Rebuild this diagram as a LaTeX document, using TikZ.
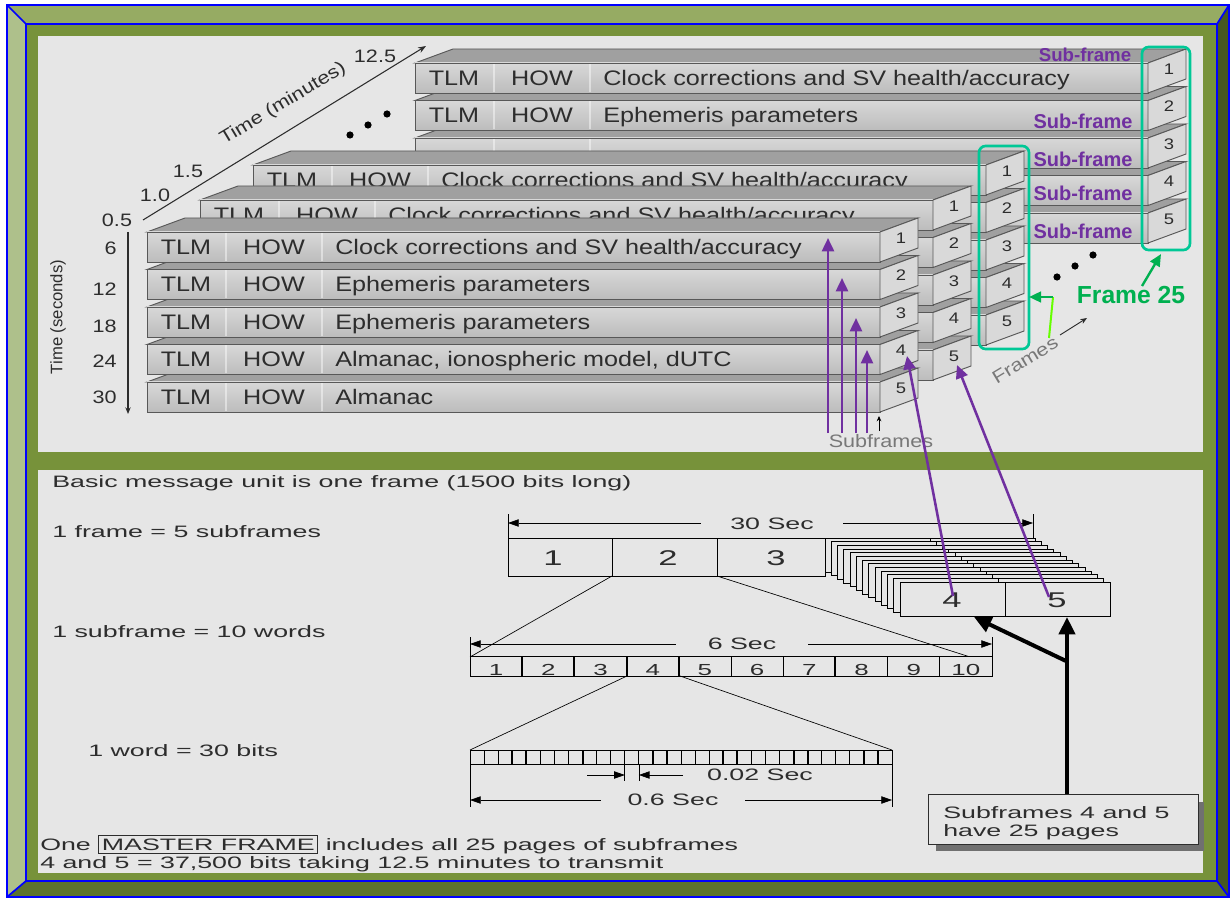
\documentclass[tikz,border=0pt]{standalone}
\usepackage{fontspec}
\setmainfont{Liberation Sans}
\newfontfamily\topf[FakeStretch=1.2]{Liberation Sans}
\newfontfamily\botf[FakeStretch=1.62]{Liberation Sans}
\usetikzlibrary{arrows.meta}
\definecolor{bandtop}{RGB}{150,171,99}
\definecolor{bandleft}{RGB}{174,192,139}
\definecolor{bandright}{RGB}{71,88,34}
\definecolor{bandbot}{RGB}{93,115,46}
\definecolor{olivefill}{RGB}{119,146,58}
\definecolor{panel}{RGB}{230,230,230}
\definecolor{purp}{RGB}{112,48,160}
\definecolor{fgreen}{RGB}{0,176,80}
\definecolor{brightg}{RGB}{102,255,0}
\definecolor{cyanbox}{RGB}{0,200,150}
\definecolor{topgray}{RGB}{160,160,160}
\definecolor{endgray}{RGB}{217,217,217}
\definecolor{barhi}{RGB}{216,216,216}
\definecolor{barlo}{RGB}{188,188,188}
\definecolor{edgegray}{RGB}{88,88,88}
\definecolor{txtdark}{RGB}{45,45,45}
\definecolor{lblgray}{RGB}{120,120,120}
\definecolor{shadowgray}{RGB}{112,112,112}

% one bar of a frame: x, y (top of front face), number, name
\newcommand\gpsbar[4]{%
  \filldraw[topface] (#1,#2) -- ({#1+38},{#2-14}) -- ({#1+771},{#2-14}) -- ({#1+733},{#2}) -- cycle;
  \shade[top color=barhi,bottom color=barlo] (#1,#2) rectangle ({#1+733},{#2+30});
  \draw[baredge] (#1,#2) rectangle ({#1+733},{#2+30});
  \draw[sepline] ({#1+79},{#2+1}) -- ({#1+79},{#2+29});
  \draw[sepline] ({#1+175},{#2+1}) -- ({#1+175},{#2+29});
  \filldraw[endface] ({#1+733},{#2}) -- ({#1+771},{#2-14}) -- ({#1+771},{#2+16}) -- ({#1+733},{#2+30}) -- cycle;
  \node[endnum] (#4) at ({#1+754},{#2+6}) {#3};
}
% texts of one bar: x, y, description, name
\newcommand\gpstext[4]{%
  \node[rowtxt] (#4a) at ({#1+39},{#2+22.5}) {TLM};
  \node[rowtxt] (#4b) at ({#1+127},{#2+22.5}) {HOW};
  \node[rowtxt,anchor=base west] (#4c) at ({#1+188},{#2+22.5}) {#3};
}

\begin{document}
\begin{tikzpicture}[x=0.75pt,y=-0.75pt,
  topface/.style={fill=topgray,draw=edgegray,line width=0.7pt},
  endface/.style={fill=endgray,draw=edgegray,line width=0.7pt},
  baredge/.style={draw=edgegray,line width=0.7pt},
  sepline/.style={draw=white,line width=2pt,opacity=0.45},
  rowtxt/.style={font=\topf\fontsize{15.75}{18}\selectfont,text=txtdark,inner sep=0pt,anchor=base},
  endnum/.style={font=\topf\fontsize{11.5}{13}\selectfont,text=txtdark,inner sep=0pt},
  axlbl/.style={font=\topf\fontsize{13.5}{16}\selectfont,text=txtdark,inner sep=0pt},
  subfr/.style={font=\bfseries\fontsize{15}{18}\selectfont,text=purp,inner sep=0pt},
  purparrow/.style={draw=purp,line width=1.9pt,-{Triangle[length=10pt,width=9pt]}},
  btxt/.style={font=\botf\fontsize{12.4}{15}\selectfont,text=txtdark,inner sep=0pt,anchor=base west},
  bnum/.style={font=\botf\fontsize{16}{18}\selectfont,text=txtdark,inner sep=0pt},
  snum/.style={font=\botf\fontsize{12}{14}\selectfont,text=txtdark,inner sep=0pt,anchor=base},
  cellbox/.style={draw=black,line width=0.6pt,fill=panel},
  dimline/.style={draw=black,line width=0.5pt},
  dimarrow/.style={draw=black,line width=0.5pt,{Triangle[length=8pt,width=5.5pt]}-{Triangle[length=8pt,width=5.5pt]}},
  thickarrow/.style={draw=black,line width=3pt,-{Triangle[length=13pt,width=12pt]}},
  framebox/.style={draw=cyanbox,line width=2pt,rounded corners=5pt},
  bordline/.style={draw=blue,line width=1.3pt}
]
\useasboundingbox (0,0) rectangle (1231,898);
% ---------------- border ----------------
\fill[white] (0,0) rectangle (1231,898);
\fill[bandtop] (7,5) -- (1229,5) -- (1217,24) -- (26,24) -- cycle;
\fill[bandleft] (7,5) -- (26,24) -- (26,881) -- (7,897) -- cycle;
\fill[bandright] (1229,5) -- (1229,897) -- (1217,881) -- (1217,24) -- cycle;
\fill[bandbot] (7,897) -- (26,881) -- (1217,881) -- (1229,897) -- cycle;
\fill[olivefill] (26,24) rectangle (1217,881);
\draw[bordline] (7,5) rectangle (1229,897);
\draw[bordline] (26,24) rectangle (1217,881);
\draw[bordline] (7,5) -- (26,24);
\draw[bordline] (1229,5) -- (1217,24);
\draw[bordline] (7,897) -- (26,881);
\draw[bordline] (1229,897) -- (1217,881);
% panels
\fill[panel] (38,36) rectangle (1203,452);
\fill[panel] (38,470) rectangle (1203,873);

% ---------------- top: axes ----------------
\coordinate (vtop) at (128,232);
\coordinate (vbot) at (128,414);
\draw[draw=txtdark,line width=0.8pt,-{Stealth[length=5pt,width=4pt]}] (vtop) -- (vbot);
\coordinate (dlow) at (143,220);
\coordinate (dhigh) at (426,46);
\draw[draw=txtdark,line width=0.8pt,-{Stealth[length=6pt,width=4.5pt]}] (dlow) -- (dhigh);
\node[axlbl] (a05) at (117,220) {0.5};
\node[axlbl] (a10) at (155,195) {1.0};
\node[axlbl] (a15) at (188,171) {1.5};
\node[axlbl] (a125) at (375,56) {12.5};
\node[axlbl,rotate=31] (tmin) at (283,104) {Time (minutes)};
\node[axlbl,anchor=east] (s6) at (117,248) {6};
\node[axlbl,anchor=east] (s12) at (117,289) {12};
\node[axlbl,anchor=east] (s18) at (117,326) {18};
\node[axlbl,anchor=east] (s24) at (117,361) {24};
\node[axlbl,anchor=east] (s30) at (117,397) {30};
\node[font=\fontsize{12.5}{14}\selectfont,text=txtdark,inner sep=0pt,rotate=90] (tsec) at (58,317) {Time (seconds)};
\fill[black] (350,135) circle (2.7pt);
\fill[black] (368,125) circle (2.7pt);
\fill[black] (387,114) circle (2.7pt);

% ---------------- top: frames ----------------
% frame 25
\foreach \r in {5,4,3,2,1}{%
  \pgfmathsetmacro{\yy}{63+(\r-1)*37.5}
  \gpsbar{415}{\yy}{\r}{fz\r}
}
\gpstext{415}{63}{Clock corrections and SV health/accuracy}{fzt1}
\gpstext{415}{100.5}{Ephemeris parameters}{fzt2}
% frame 3
\foreach \r in {5,4,3,2,1}{%
  \pgfmathsetmacro{\yy}{165+(\r-1)*37.5}
  \gpsbar{253}{\yy}{\r}{fc\r}
}
\gpstext{253}{165}{Clock corrections and SV health/accuracy}{fct1}
% frame 2
\foreach \r in {5,4,3,2,1}{%
  \pgfmathsetmacro{\yy}{200+(\r-1)*37.5}
  \gpsbar{200}{\yy}{\r}{fb\r}
}
\gpstext{200}{200}{Clock corrections and SV health/accuracy}{fbt1}
% frame 1
\foreach \r in {5,4,3,2,1}{%
  \pgfmathsetmacro{\yy}{232+(\r-1)*37.5}
  \gpsbar{147}{\yy}{\r}{fa\r}
}
\gpstext{147}{232}{Clock corrections and SV health/accuracy}{fat1}
\gpstext{147}{269.5}{Ephemeris parameters}{fat2}
\gpstext{147}{307}{Ephemeris parameters}{fat3}
\gpstext{147}{344.5}{Almanac, ionospheric model, dUTC}{fat4}
\gpstext{147}{382}{Almanac}{fat5}

% frame boxes and labels
\draw[framebox] (979,146) rectangle (1029,349);
\draw[framebox] (1142,47) rectangle (1190,250);
\node[subfr,font=\bfseries\fontsize{14}{16}\selectfont] (sf1) at (1085,55) {Sub-frame};
\node[subfr] (sf2) at (1083,121) {Sub-frame};
\node[subfr] (sf3) at (1083,159) {Sub-frame};
\node[subfr] (sf4) at (1083,193) {Sub-frame};
\node[subfr] (sf5) at (1083,231) {Sub-frame};
\fill[black] (1057,277) circle (2.7pt);
\fill[black] (1075,266) circle (2.7pt);
\fill[black] (1093,255) circle (2.7pt);
\node[axlbl,text=lblgray,rotate=31] (frm) at (1025,360) {Frames};
\coordinate (frs) at (1060,335);
\coordinate (fre) at (1087,318);
\draw[draw=txtdark,line width=0.7pt,-{Stealth[length=5pt,width=4pt]}] (frs) -- (fre);
\node[font=\bfseries\fontsize{18.5}{20}\selectfont,text=fgreen,inner sep=0pt] (f25) at (1131,295) {Frame 25};
\coordinate (f25s) at (1142,286);
\coordinate (f25t) at (1161,254);
\draw[draw=fgreen,line width=1.8pt,-{Triangle[length=9pt,width=8pt]}] (f25s) -- (f25t);
\coordinate (gla) at (1049,338);
\coordinate (glb) at (1053,297);
\coordinate (glc) at (1029,297);
\draw[draw=brightg,line width=1.5pt] (gla) -- (glb);
\draw[draw=fgreen,line width=1.8pt,-{Triangle[length=9pt,width=8pt]}] (glb) -- (glc);

% subframes label and arrows
\node[axlbl,text=lblgray] (sublbl) at (881,441) {Subframes};
\coordinate (sma) at (879,431);
\coordinate (smb) at (879,416);
\draw[draw=black,line width=0.7pt,-{Stealth[length=4pt,width=3.5pt]}] (sma) -- (smb);
\coordinate (pa1) at (828,433); \coordinate (pt1) at (828,238);
\coordinate (pa2) at (842,433); \coordinate (pt2) at (842,278);
\coordinate (pa3) at (856,433); \coordinate (pt3) at (856,318);
\coordinate (pa4) at (867,433); \coordinate (pt4) at (867,350);
\draw[purparrow] (pa1) -- (pt1);
\draw[purparrow] (pa2) -- (pt2);
\draw[purparrow] (pa3) -- (pt3);
\draw[purparrow] (pa4) -- (pt4);

% ---------------- bottom ----------------
\node[btxt] (basic) at (52,487) {Basic message unit is one frame (1500 bits long)};
\node[btxt] (l1) at (52,537) {1 frame = 5 subframes};
\node[btxt] (l2) at (52,637) {1 subframe = 10 words};
\node[btxt] (l3) at (88,756) {1 word = 30 bits};
\node[btxt] (l4) at (40,850) {One {\fboxsep=2pt\fboxrule=0.7pt\fbox{MASTER FRAME}} includes all 25 pages of subframes};
\node[btxt] (l5) at (40,868) {4 and 5 = 37,500 bits taking 12.5 minutes to transmit};

% frame bar
\draw[cellbox] (508,538) rectangle (612,576);
\draw[cellbox] (612,538) rectangle (717,576);
\draw[cellbox] (717,538) rectangle (825,576);
\node[bnum] (n1) at (553,558) {1};
\node[bnum] (n2) at (668,558) {2};
\node[bnum] (n3) at (776,558) {3};
\foreach \k in {0,...,12}{%
  \pgfmathsetmacro{\sx}{825+\k*6.25}
  \pgfmathsetmacro{\sy}{538+\k*3.667}
  \filldraw[cellbox] (\sx,\sy) rectangle ({\sx+210},{\sy+34});
  \draw[line width=0.6pt] ({\sx+105},\sy) -- ({\sx+105},{\sy+34});
}
\node[bnum] (n4) at (952,600) {4};
\node[bnum] (n5) at (1057,600) {5};
% 30 sec dimension
\draw[dimline] (508,514) -- (508,538);
\draw[dimline] (1033,514) -- (1033,538);
\coordinate (d30a) at (508,523);
\coordinate (d30b) at (1033,523);
\draw[dimarrow] (d30a) -- (d30b);
\node[font=\botf\fontsize{12.4}{15}\selectfont,text=txtdark,fill=panel,inner xsep=22pt,inner ysep=1pt] (s30) at (772,524) {30 Sec};

% expansion lines
\coordinate (e1) at (612,576); \coordinate (e2) at (470,657);
\coordinate (e3) at (717,576); \coordinate (e4) at (992,664);
\draw[line width=0.5pt] (e1) -- (e2);
\draw[line width=0.5pt] (e3) -- (e4);

% 6 sec bar
\draw[cellbox] (470,656) rectangle (992,676);
\foreach \i in {1,...,9}{\draw[line width=0.6pt] ({470+\i*52.2},656) -- ({470+\i*52.2},676);}
\foreach \i in {1,2,3,4,7}{\draw[line width=1.6pt] ({470+\i*52.2},656) -- ({470+\i*52.2},676);}
\foreach \i in {1,...,10}{\node[snum] (w\i) at ({470+(\i-0.5)*52.2},675) {\i};}
\draw[dimline] (470,637) -- (470,656);
\draw[dimline] (992,637) -- (992,656);
\coordinate (d6a) at (470,644);
\coordinate (d6b) at (992,644);
\draw[dimarrow] (d6a) -- (d6b);
\node[font=\botf\fontsize{12.4}{15}\selectfont,text=txtdark,fill=panel,inner xsep=24pt,inner ysep=1pt] (s6s) at (742,644) {6 Sec};

% expansion lines to bits
\coordinate (e5) at (627,676); \coordinate (e6) at (470,750);
\coordinate (e7) at (680,676); \coordinate (e8) at (892,750);
\draw[line width=0.5pt] (e5) -- (e6);
\draw[line width=0.5pt] (e7) -- (e8);

% bit bar
\draw[cellbox] (470,750) rectangle (892,764);
\foreach \i in {1,...,29}{\draw[line width=0.5pt] ({470+\i*14.0667},750) -- ({470+\i*14.0667},764);}
\foreach \i in {3,4,8,13,14,18,19,23,24,28,29}{\draw[line width=1.5pt] ({470+\i*14.0667},750) -- ({470+\i*14.0667},764);}
\draw[dimline] (470,764) -- (470,807);
\draw[dimline] (892,764) -- (892,807);
\coordinate (d06a) at (470,800);
\coordinate (d06b) at (892,800);
\draw[dimarrow] (d06a) -- (d06b);
\node[font=\botf\fontsize{12.4}{15}\selectfont,text=txtdark,fill=panel,inner xsep=20pt,inner ysep=1pt] (s06) at (673,800) {0.6 Sec};
\draw[dimline] (624.8,764) -- (624.8,781);
\draw[dimline] (638.9,764) -- (638.9,781);
\coordinate (q1) at (587,775); \coordinate (q2) at (624.8,775);
\coordinate (q3) at (683,775); \coordinate (q4) at (638.9,775);
\draw[draw=black,line width=0.5pt,-{Triangle[length=8pt,width=5.5pt]}] (q1) -- (q2);
\draw[draw=black,line width=0.5pt,-{Triangle[length=8pt,width=5.5pt]}] (q3) -- (q4);
\node[font=\botf\fontsize{12.4}{15}\selectfont,text=txtdark,inner sep=0pt] (s002) at (760,775) {0.02 Sec};

% callout
\fill[shadowgray] (936,802) rectangle (1204,851);
\node[draw=txtdark,line width=0.7pt,fill=panel,minimum width=202.5pt,minimum height=37.5pt,inner sep=0pt] (callout) at (1063,819) {};
\node[btxt] (ct1) at (943,818) {Subframes 4 and 5};
\node[btxt] (ct2) at (943,836) {have 25 pages};
\coordinate (cbtop) at (1067,794);
\coordinate (b5tip) at (1067,617);
\coordinate (fork) at (1066,661);
\coordinate (b4tip) at (974,617);
\draw[thickarrow] (cbtop) -- (b5tip);
\draw[thickarrow] (fork) -- (b4tip);

% long purple arrows
\coordinate (p4s) at (953,596); \coordinate (p4t) at (907,356);
\coordinate (p5s) at (1049,597); \coordinate (p5t) at (957,365);
\draw[purparrow] (p4s) -- (p4t);
\draw[purparrow] (p5s) -- (p5t);
\end{tikzpicture}
\end{document}
